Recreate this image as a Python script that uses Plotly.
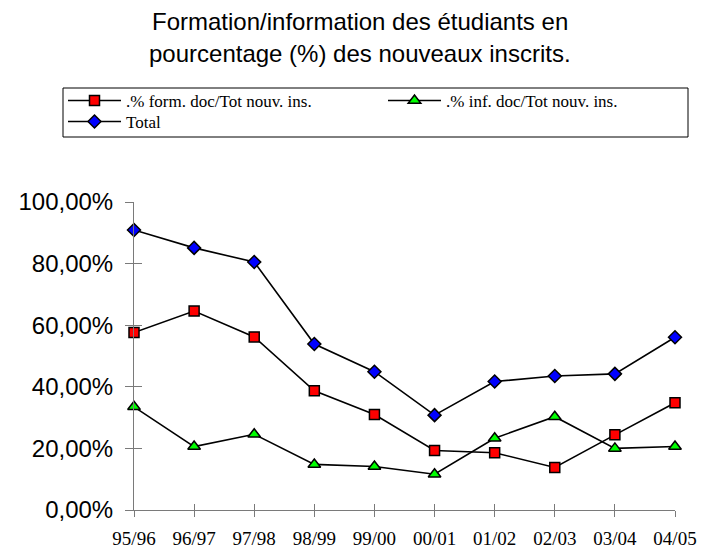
import plotly.graph_objects as go

categories = ["95/96", "96/97", "97/98", "98/99", "99/00", "00/01", "01/02", "02/03", "03/04", "04/05"]
form_doc = [57.6, 64.6, 56.2, 38.7, 31.0, 19.3, 18.6, 13.8, 24.4, 34.8]
inf_doc = [33.5, 20.6, 24.6, 14.8, 14.1, 11.6, 23.3, 30.3, 20.0, 20.6]
total = [90.9, 85.1, 80.5, 53.9, 44.9, 30.8, 41.7, 43.5, 44.2, 56.1]
y_ticks = [0, 0.2, 0.4, 0.6, 0.8, 1.0]
names = [".% form. doc/Tot nouv. ins.", ".% inf. doc/Tot nouv. ins.", "Total"]
title_lines = ["Formation/information des étudiants en", "pourcentage (%) des nouveaux inscrits."]

W, H = 701, 550
ML, MR, MT, MB = 134, 26, 202, 40
pw, ph = W - ML - MR, H - MT - MB
def px(xp): return (xp - ML) / pw
def py(yp): return (H - MB - yp) / ph

xs = list(range(len(categories)))
fig = go.Figure()
series = [
    (names[0], form_doc, "square", "#ff0000", 10, "legend", 252),
    (names[1], inf_doc, "triangle-up", "#00ff00", 11, "legend", None),
    (names[2], total, "diamond", "#0000ff", 10, "legend2", None),
]
for name, vals, sym, col, sz, leg, lw in series:
    kw = {}
    if lw:
        kw["legendwidth"] = lw
    fig.add_trace(go.Scatter(
        x=xs, y=[v / 100 for v in vals], name=name, mode="lines+markers",
        line=dict(color="black", width=1.6),
        marker=dict(symbol=sym, color=col, size=sz, line=dict(color="black", width=1.5)),
        cliponaxis=False, legend=leg, **kw,
    ))

# invisible trace on secondary axes for crossing ticks
fig.add_trace(go.Scatter(x=[0], y=[0], xaxis="x2", yaxis="y2", showlegend=False,
                         mode="markers", marker=dict(opacity=0), hoverinfo="skip"))

axis_col = "#7a7a7a"
legfont = dict(family="Liberation Serif", size=17, color="black")
fig.update_layout(
    width=W, height=H,
    paper_bgcolor="white", plot_bgcolor="white",
    separators=",.",
    margin=dict(l=ML, r=MR, t=MT, b=MB, autoexpand=False),
    showlegend=True,
    legend=dict(
        orientation="h", x=px(63), xanchor="left", y=py(83), yanchor="top",
        borderwidth=0, bgcolor="rgba(0,0,0,0)", font=legfont, itemwidth=53,
    ),
    legend2=dict(
        orientation="h", x=px(63), xanchor="left", y=py(104), yanchor="top",
        borderwidth=0, bgcolor="rgba(0,0,0,0)", font=legfont, itemwidth=53,
    ),
    xaxis=dict(
        range=[0, 9], tickmode="array", tickvals=xs, ticktext=categories,
        showgrid=False, zeroline=False, showline=True, linecolor=axis_col, linewidth=1,
        ticks="outside", ticklen=6, tickcolor=axis_col,
        tickfont=dict(family="Liberation Serif", size=19, color="black"),
        ticklabelstandoff=5,
    ),
    yaxis=dict(
        range=[0, 1], tickvals=y_ticks, tickformat=".2%",
        showgrid=False, zeroline=False, showline=True, linecolor=axis_col, linewidth=1,
        ticks="outside", ticklen=8, tickcolor=axis_col,
        tickfont=dict(family="Liberation Sans", size=24, color="black"),
        ticklabelstandoff=7,
    ),
    xaxis2=dict(overlaying="x", range=[0, 9], tickvals=xs, showticklabels=False,
                ticks="inside", ticklen=6, tickcolor=axis_col, showgrid=False,
                zeroline=False, showline=False),
    yaxis2=dict(overlaying="y", range=[0, 1], tickvals=y_ticks, showticklabels=False,
                ticks="inside", ticklen=8, tickcolor=axis_col, showgrid=False,
                zeroline=False, showline=False),
    annotations=[
        dict(text=title_lines[0], x=px(360), y=py(21), xref="paper", yref="paper",
             xanchor="center", yanchor="middle", showarrow=False,
             font=dict(family="Liberation Sans", size=24, color="black")),
        dict(text=title_lines[1], x=px(360), y=py(54), xref="paper", yref="paper",
             xanchor="center", yanchor="middle", showarrow=False,
             font=dict(family="Liberation Sans", size=24, color="black")),
    ],
    shapes=[
        dict(type="rect", xref="paper", yref="paper", x0=px(63), x1=px(688),
             y0=py(88), y1=py(137), line=dict(color="black", width=1), fillcolor="rgba(0,0,0,0)",
             layer="below"),
    ],
)

fig.write_html("out.html", config={"displayModeBar": False},
               post_script="document.body.style.margin='0';document.body.style.padding='0';")
